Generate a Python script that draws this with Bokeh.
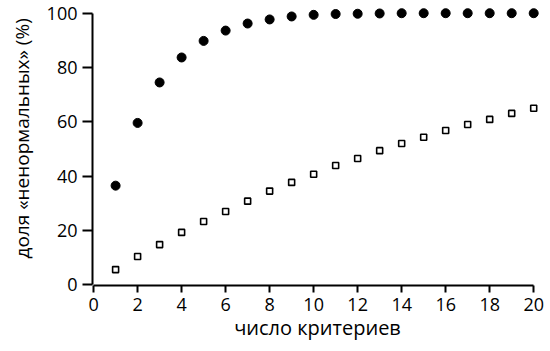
from bokeh.plotting import figure
from bokeh.models import Range1d, FixedTicker, Title
from bokeh.embed import file_html
from bokeh.resources import INLINE

criteria = list(range(1, 21))
share_filled = [36.5, 59.6, 74.5, 83.7, 89.8, 93.6, 96.2, 97.7, 98.8, 99.4,
                99.7, 99.8, 99.9, 100.0, 100.0, 100.0, 100.0, 100.0, 100.0, 100.0]
share_open = [5.6, 10.4, 14.8, 19.3, 23.3, 27.0, 30.8, 34.5, 37.7, 40.7,
              43.9, 46.5, 49.4, 52.0, 54.3, 56.8, 59.0, 60.9, 63.1, 65.0]
x_ticks = [0, 2, 4, 6, 8, 10, 12, 14, 16, 18, 20]
y_ticks = [0, 20, 40, 60, 80, 100]
x_title = "число критериев"
y_title = "доля «ненормальных» (%)"

FONT = "Open Sans"

p = figure(width=550, height=351, output_backend="svg", toolbar_location=None,
           x_range=Range1d(-0.05, 20.4), y_range=Range1d(-0.26, 102.1),
           min_border_left=92, min_border_right=8, min_border_top=7, min_border_bottom=66)
p.outline_line_color = None
p.xgrid.visible = False
p.ygrid.visible = False

p.scatter(criteria, share_filled, marker="circle", size=9, fill_color="black", line_color="black")
p.scatter(criteria, share_open, marker="square", size=6, fill_color="white",
          line_color="black", line_width=1.6)

for ax in (p.xaxis[0], p.yaxis[0]):
    ax.axis_line_width = 2
    ax.major_tick_line_width = 2
    ax.minor_tick_line_color = None
    ax.major_tick_in = 0
    ax.major_label_text_font = FONT
    ax.major_label_text_font_size = "18px"
    ax.major_label_text_color = "black"
    ax.axis_label_text_font = FONT
    ax.axis_label_text_font_size = "20px"
    ax.axis_label_text_font_style = "normal"
    ax.axis_label_text_color = "black"

p.xaxis[0].ticker = FixedTicker(ticks=x_ticks)
p.yaxis[0].ticker = FixedTicker(ticks=y_ticks)
p.xaxis[0].bounds = (0, 20)
p.yaxis[0].bounds = (0, 100)
p.xaxis[0].major_tick_out = 7
p.yaxis[0].major_tick_out = 10
p.xaxis[0].major_label_standoff = 5
p.yaxis[0].major_label_standoff = 5
p.xaxis[0].axis_label = x_title
p.xaxis[0].axis_label_standoff = 0

# y-axis title as a side title (allows shifting it along the axis)
yt = Title(text=y_title, align="left", vertical_align="top", offset=27, standoff=13,
           text_font=FONT, text_font_size="19px", text_font_style="normal",
           text_color="black")
p.add_layout(yt, "left")

open("out.html", "w").write(file_html(p, INLINE))
